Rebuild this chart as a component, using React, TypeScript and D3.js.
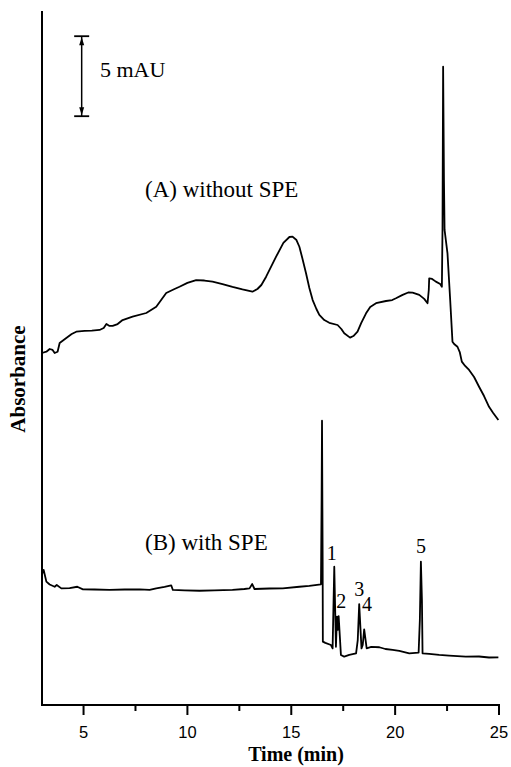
import * as d3 from 'd3'

// Trace A: without SPE (time in min, absorbance in mAU, arbitrary offset)
const timeA = [
  3.0, 3.21, 3.37, 3.51, 3.61, 3.75, 3.85, 4.17, 4.43, 4.65, 5.05, 5.4, 5.77, 5.97, 6.1, 6.25, 6.4, 6.64,
  6.88, 7.36, 8.02, 8.5, 8.98, 9.38, 9.62, 10.0, 10.42, 10.82, 11.21, 11.69, 12.17, 12.65, 13.13, 13.37,
  13.56, 13.79, 14.27, 14.62, 14.91, 15.06, 15.25, 15.39, 15.53, 15.71, 15.87, 16.03, 16.21, 16.35, 16.59,
  16.83, 17.23, 17.41, 17.55, 17.83, 17.99, 18.19, 18.37, 18.6, 18.8, 19.08, 19.56, 19.86, 20.04, 20.36,
  20.63, 20.84, 21.16, 21.4, 21.56, 21.62, 21.64, 21.78, 21.96, 22.17, 22.25, 22.28, 22.31, 22.35, 22.38,
  22.52, 22.65, 22.76, 22.84, 23.0, 23.11, 23.21, 23.37, 23.56, 23.8, 24.04, 24.28, 24.52, 24.72, 24.97,
]
const absA = [
  22.0, 22.08, 22.25, 22.19, 22.0, 22.08, 22.63, 22.94, 23.19, 23.33, 23.38, 23.4, 23.44, 23.56, 23.81, 23.69,
  23.69, 23.81, 24.06, 24.27, 24.5, 24.89, 25.75, 26.0, 26.14, 26.38, 26.56, 26.53, 26.46, 26.31, 26.13, 25.97,
  25.83, 26.0, 26.25, 26.77, 28.02, 28.88, 29.25, 29.27, 29.06, 28.64, 27.94, 26.98, 26.06, 25.31, 24.75,
  24.38, 24.06, 23.89, 23.75, 23.5, 23.23, 22.96, 23.06, 23.33, 23.88, 24.48, 24.88, 25.11, 25.25, 25.31,
  25.42, 25.63, 25.78, 25.77, 25.63, 25.38, 25.11, 25.94, 26.67, 26.63, 26.46, 26.31, 26.14, 29.69, 39.89,
  32.81, 29.69, 28.23, 25.31, 22.71, 22.56, 22.39, 22.06, 21.46, 21.19, 20.94, 20.5, 19.89, 19.31, 18.64,
  18.25, 17.81,
]

// Trace B: with SPE
const timeB = [
  3.05, 3.08, 3.21, 3.37, 3.61, 3.71, 3.93, 4.33, 4.7, 4.97, 5.53, 6.25, 6.98, 7.7, 8.18, 8.5, 8.9, 9.22, 9.3,
  9.86, 10.58, 11.3, 12.17, 12.74, 12.99, 13.12, 13.23, 13.95, 14.59, 15.39, 15.87, 16.43, 16.46, 16.48,
  16.51, 16.52, 16.64, 16.91, 16.99, 17.07, 17.15, 17.2, 17.24, 17.28, 17.39, 17.55, 17.79, 18.12, 18.2,
  18.27, 18.38, 18.44, 18.51, 18.63, 18.85, 19.24, 19.53, 19.88, 20.2, 20.68, 21.13, 21.19, 21.24, 21.29,
  21.32, 21.64, 22.12, 22.6, 23.4, 24.04, 24.52, 24.97,
]
const absB = [
  8.23, 8.44, 7.71, 7.53, 7.39, 7.5, 7.29, 7.31, 7.39, 7.23, 7.22, 7.19, 7.22, 7.23, 7.19, 7.29, 7.38, 7.48,
  7.19, 7.16, 7.14, 7.16, 7.19, 7.25, 7.29, 7.56, 7.25, 7.28, 7.29, 7.39, 7.44, 7.54, 12.81, 17.77, 9.06,
  3.96, 3.88, 3.75, 3.54, 8.64, 3.64, 5.52, 4.69, 5.56, 3.13, 3.02, 3.13, 3.23, 4.06, 6.31, 3.54, 3.75, 4.73,
  3.54, 3.63, 3.61, 3.5, 3.44, 3.38, 3.23, 3.27, 5.31, 8.96, 6.56, 3.23, 3.19, 3.13, 3.09, 3.02, 3.03, 2.97,
  2.98,
]

const peakLabels = ['1', '2', '3', '4', '5']
const peakLabelTime = [16.95, 17.4, 18.27, 18.64, 21.24]
const peakLabelAbs = [9.06, 6.06, 6.81, 5.88, 9.47]

const majorTicks = [5, 10, 15, 20, 25]
const minorTicks = [7.5, 12.5, 17.5, 22.5]

const W = 511
const H = 767
const ML = 42
const MR = 12
const MT = 11
const BOTTOM = 705

const SERIF = '"Liberation Serif", "Times New Roman", serif'
const SANS = '"Liberation Sans", Arial, sans-serif'

export default function App() {
  const x = d3.scaleLinear().domain([3, 25]).range([ML, W - MR])
  const y = d3.scaleLinear().domain([0, (BOTTOM - MT) / 16]).range([BOTTOM, MT])

  const line = d3
    .line<[number, number]>()
    .x((d) => x(d[0]))
    .y((d) => y(d[1]))

  const ptsA = timeA.map((t, i) => [t, absA[i]] as [number, number])
  const ptsB = timeB.map((t, i) => [t, absB[i]] as [number, number])

  // scale bar: 5 mAU
  const sbX = x(4.91)
  const sbTop = y(41.8)
  const sbBot = y(41.8 - 5)

  return (
    <div style={{ position: 'fixed', left: 0, top: 0 }}>
      <svg width={W} height={H} style={{ display: 'block', background: '#fff' }}>
        {/* traces */}
        <path d={line(ptsA) ?? ''} fill="none" stroke="#000" strokeWidth={1.8} strokeLinejoin="round" />
        <path d={line(ptsB) ?? ''} fill="none" stroke="#000" strokeWidth={1.8} strokeLinejoin="round" />

        {/* axes */}
        <line x1={ML} y1={MT} x2={ML} y2={BOTTOM + 1} stroke="#000" strokeWidth={2} />
        <line x1={ML - 1} y1={BOTTOM} x2={x(25) + 1} y2={BOTTOM} stroke="#000" strokeWidth={2} />
        {majorTicks.map((t) => (
          <g key={t}>
            <line x1={x(t)} y1={BOTTOM} x2={x(t)} y2={BOTTOM + 10} stroke="#000" strokeWidth={2} />
            <text
              x={x(t)}
              y={BOTTOM + 33}
              textAnchor="middle"
              fontFamily={SANS}
              fontSize={16.5}
              fill="#000"
            >
              {t}
            </text>
          </g>
        ))}
        {minorTicks.map((t) => (
          <line key={t} x1={x(t)} y1={BOTTOM} x2={x(t)} y2={BOTTOM + 6} stroke="#000" strokeWidth={2} />
        ))}

        <text x={296} y={761} textAnchor="middle" fontFamily={SERIF} fontWeight="bold" fontSize={20}>
          Time (min)
        </text>
        <text
          transform="translate(25,379) rotate(-90)"
          textAnchor="middle"
          fontFamily={SERIF}
          fontWeight="bold"
          fontSize={21}
        >
          Absorbance
        </text>

        {/* scale bar */}
        <line x1={sbX} y1={sbTop} x2={sbX} y2={sbBot} stroke="#000" strokeWidth={1.5} />
        <line x1={sbX - 7.5} y1={sbTop} x2={sbX + 7.5} y2={sbTop} stroke="#000" strokeWidth={1.8} />
        <line x1={sbX - 7.5} y1={sbBot} x2={sbX + 7.5} y2={sbBot} stroke="#000" strokeWidth={1.8} />
        <path d={`M${sbX},${sbTop + 1} l-2.5,8 l5,0 z`} fill="#000" />
        <path d={`M${sbX},${sbBot - 1} l-2.5,-8 l5,0 z`} fill="#000" />
        <text x={100} y={77} fontFamily={SERIF} fontSize={22}>
          5 mAU
        </text>

        {/* trace labels */}
        <text x={145} y={197} fontFamily={SERIF} fontSize={23}>
          (A) without SPE
        </text>
        <text x={145} y={550} fontFamily={SERIF} fontSize={23}>
          (B) with SPE
        </text>

        {/* peak numbers */}
        {peakLabels.map((p, i) => (
          <text
            key={p}
            x={x(peakLabelTime[i])}
            y={y(peakLabelAbs[i])}
            textAnchor="middle"
            fontFamily={SERIF}
            fontSize={20}
          >
            {p}
          </text>
        ))}
      </svg>
    </div>
  )
}
